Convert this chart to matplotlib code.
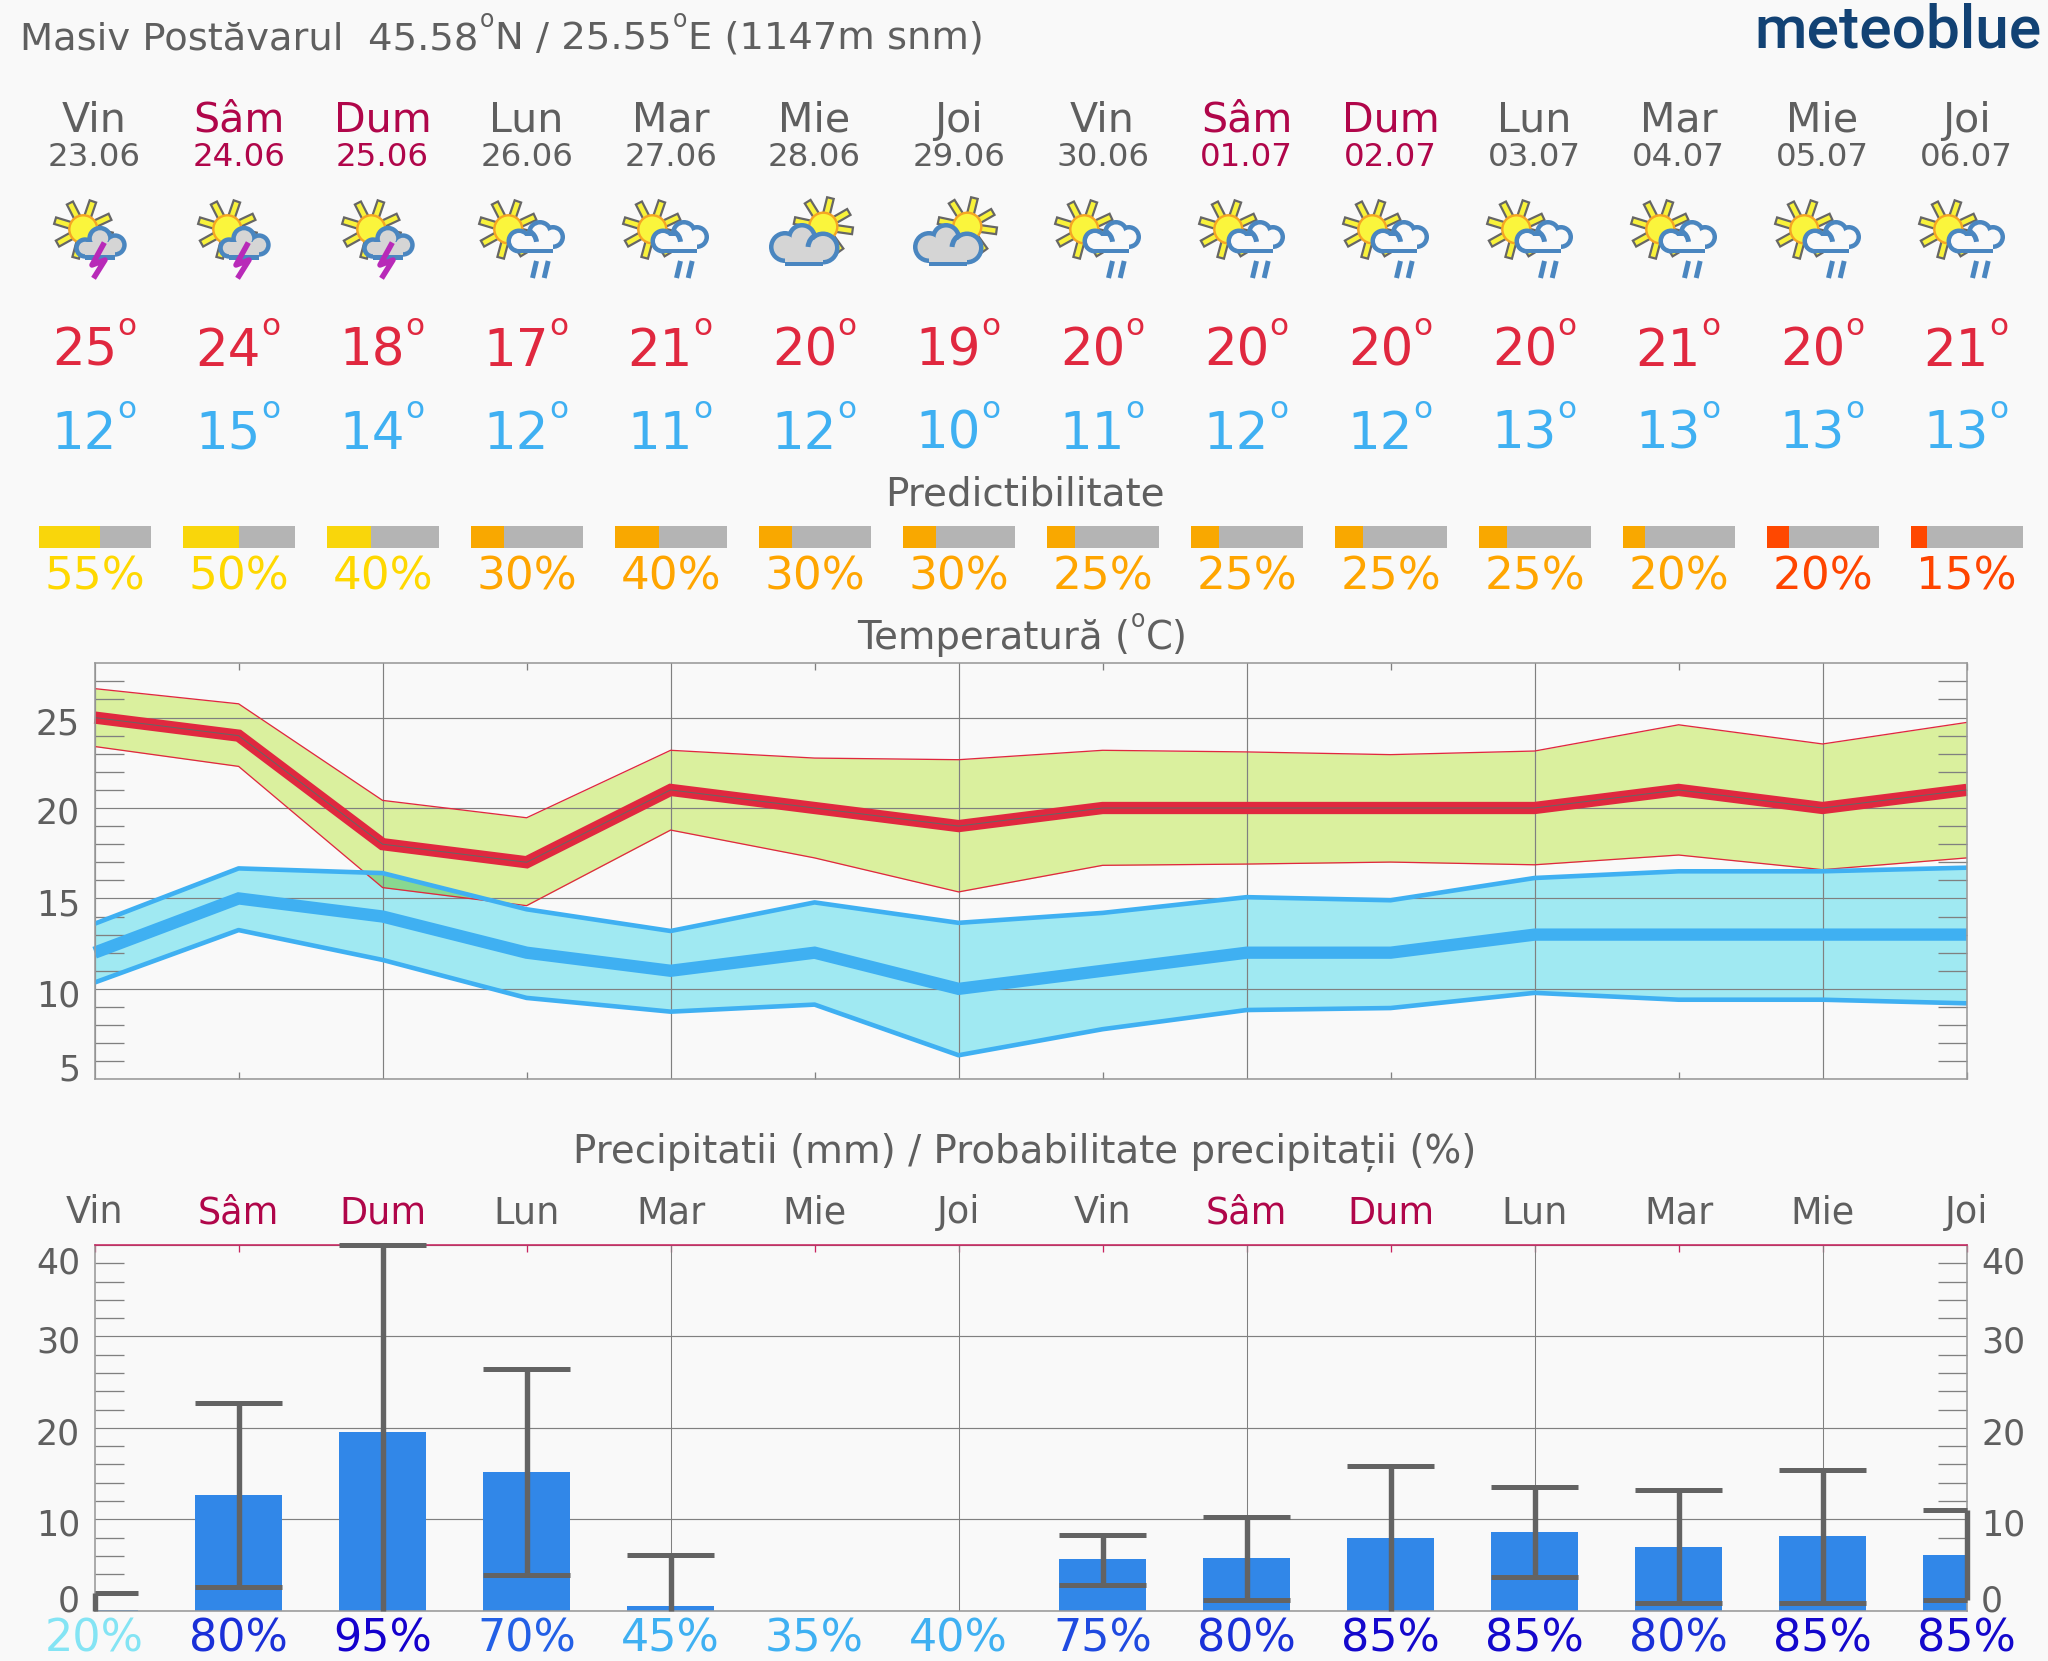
# plot
# meteogram 14 days : predictability, temperature, precipitation

import numpy as n
from matplotlib.pyplot import figure, rcParams
from matplotlib.patches import Circle, Rectangle, Arc, Polygon
from matplotlib.transforms import ScaledTranslation

# data
days_top = ['Vin','Sâm','Dum','Lun','Mar','Mie','Joi','Vin','Sâm','Dum','Lun','Mar','Mie','Joi']
dates = ['23.06','24.06','25.06','26.06','27.06','28.06','29.06','30.06','01.07','02.07','03.07','04.07','05.07','06.07']
icons = ['storm','storm','storm','rain','rain','cloud','cloud','rain','rain','rain','rain','rain','rain','rain']

t_max = [25,24,18,17,21,20,19,20,20,20,20,21,20,21]
t_min = [12,15,14,12,11,12,10,11,12,12,13,13,13,13]

t_max_hi = [26.6,25.76,20.42,19.46,23.19,22.76,22.67,23.19,23.1,22.95,23.15,24.6,23.54,24.73]
t_max_lo = [23.4,22.3,15.6,14.6,18.78,17.24,15.36,16.83,16.9,17.01,16.86,17.4,16.59,17.24]
t_min_hi = [13.6,16.66,16.4,14.4,13.2,14.78,13.65,14.2,15.07,14.9,16.13,16.5,16.5,16.7]
t_min_lo = [10.35,13.25,11.6,9.5,8.74,9.13,6.33,7.77,8.83,8.94,9.78,9.4,9.4,9.2]

predict = [55,50,40,30,40,30,30,25,25,25,25,20,20,15]
predict_col = ['y','y','y','o','o','o','o','o','o','o','o','o','r','r']

rain = [0.05,12.7,19.55,15.2,0.55,0,0,5.62,5.73,7.92,8.65,7.0,8.14,6.07]
rain_hi = [1.9,22.7,40.,26.4,6.05,n.nan,n.nan,8.28,10.25,15.88,13.58,13.25,15.36,11.]
rain_lo = [0,2.55,0,3.9,0,n.nan,n.nan,2.85,1.13,0,3.65,0.84,0.8,1.15]
rain_prob = [20,80,95,70,45,35,40,75,80,85,85,80,85,85]
prob_col = {20:'#84e4f4',35:'#3fb0f2',40:'#3fb0f2',45:'#3fb0f2',70:'#2360e6',75:'#1f4ae0',80:'#1a30d8',85:'#1408cc',95:'#1400cd'}

temp_ticks = [5,10,15,20,25]
rain_ticks = [0,10,20,30,40]

# parameter
W, H = 2048, 1661
X0, X1, STEP = 94.6, 1966.6, 144.
BG = '#f9f9f9'
GREY = '#5f5f5f'
LINE = '#808080'
WEEKEND = '#b0064a'
RED = '#e0283f'
BLUE = '#3fb0f2'
PUR_COL = {'y':('#f9d60b','#ffd800'),'o':('#f9a800','#ffa500'),'r':('#ff4800','#ff4500')}
px = 0.72  ## pixel to point at dpi 100

rcParams['font.family'] = 'DejaVu Sans'

xs = n.arange(14)
fig = figure(figsize=(W/100,H/100),dpi=100.,facecolor=BG)
rend = fig.canvas.get_renderer()

def new_axes(top,bottom):
	return fig.add_axes([X0/W,1-bottom/H,(X1-X0)/W,(bottom-top)/H],facecolor='none')

# whole figure in pixel, for text, icons and predictability bars
ov = fig.add_axes([0,0,1,1],facecolor='none')
ov.set(xlim=(0,W),ylim=(H,0))
ov.axis('off')

## text with raised degree signs, one piece after the other
def deg_text(x,y,parts,fs,fs_o,rise):
	for _i,_p in enumerate(parts):
		_t = ov.text(x,y,_p,fontsize=fs,color=GREY)
		x = _t.get_window_extent(rend).x1+1
		if _i<len(parts)-1:
			_t = ov.text(x,y-rise,'o',fontsize=fs_o,color=GREY)
			x = _t.get_window_extent(rend).x1+1

## icons
def sun(cx,cy,start):
	for _a in n.deg2rad(start+46.*n.arange(8)):
		_u, _v = n.cos(_a), -n.sin(_a)
		_pts = [(cx+_r*_u+_s*3.4*-_v,cy+_r*_v+_s*3.4*_u) for _r,_s in [(13,-1),(29.5,-1),(29.5,1),(13,1)]]
		ov.add_patch(Polygon(_pts,fc='#f8f23a',ec='#666666',lw=2.2*px,zorder=3))
	ov.add_patch(Circle((cx,cy),14.,fc='#faf53c',ec='#f5a623',lw=2.4*px,zorder=4))

def cloud(ox,oy,bumps,base,inner_top,fill):
	## outline first, the inner fill over it
	_col = '#4a86c0'
	for _cx,_cy,_r in bumps:
		ov.add_patch(Circle((ox+_cx,oy+_cy),_r,fc=_col,ec='none',zorder=5))
	_l,_t,_w,_h = base
	ov.add_patch(Rectangle((ox+_l,oy+_t),_w,_h,fc=_col,ec='none',zorder=5))
	for _cx,_cy,_r in bumps:
		ov.add_patch(Circle((ox+_cx,oy+_cy),_r-4.5,fc=fill,ec='none',zorder=6))
	ov.add_patch(Rectangle((ox+_l,oy+inner_top),_w,_t+_h-4.5-inner_top,fc=fill,ec='none',zorder=6))

def icon(kind,cx):
	if kind=='storm':
		sun(cx-11.3,229.3,25.)
		_ox, _oy = cx-54.6, 190.
		cloud(_ox,_oy,[(45,58,10.7),(60,48.5,12.7),(75,55,11.7)],(45,55,30,14.5),52,'#d5d5d5')
		ov.plot([_ox+63,_ox+52,_ox+65,_ox+55],[_oy+55,_oy+75,_oy+70,_oy+86],color='#b82ab8',lw=5.5*px,zorder=7,solid_joinstyle='round')
	if kind=='rain':
		sun(cx-18.3,229.3,25.)
		_ox, _oy = cx-61.6, 190.
		cloud(_ox,_oy,[(54,51,12.5),(75,43,13),(88,47,12)],(54,50,34,13.3),46,BG)
		ov.add_patch(Arc((_ox+58,_oy+53),27,27,theta1=300,theta2=355,ec='#4a86c0',lw=5.*px,zorder=7))
		for _d in [0,11.7]:
			ov.plot([_ox+71.5+_d,_ox+67.5+_d],[_oy+71,_oy+88],color='#4a86c0',lw=5.*px,zorder=7,solid_capstyle='butt')
	if kind=='cloud':
		sun(cx+8.7,226.7,30.)
		_ox, _oy = cx-54.6, 190.
		cloud(_ox,_oy,[(25,57,16.),(42,48,15),(63,58,16.5)],(25,58,38,18),50,'#d5d5d5')
		ov.add_patch(Arc((_ox+63,_oy+58),30,30,theta1=184,theta2=246,ec='#4a86c0',lw=5.*px,zorder=7))

## top text
deg_text(20,49,['Masiv Postăvarul  45.58','N / 25.55','E (1147m snm)'],27.7,17,22)
ov.text(2042,47.7,'meteoblue',fontsize=43.5,color='#124274',ha='right',family='Roboto',weight='medium')

def temp_label(x,y,v,col):
	ov.text(x+22.5,y,f'{v}',fontsize=37,color=col,ha='right')
	ov.text(x+32,y-30.5,'o',fontsize=22.4,color=col,ha='center')

for _i,(_d,_dt) in enumerate(zip(days_top,dates)):
	_x = X0+STEP*_i
	_c = WEEKEND if _d in ['Sâm','Dum'] else GREY
	ov.text(_x,132,_d,fontsize=29.6,color=_c,ha='center')
	ov.text(_x,166,_dt,fontsize=23.4,color=_c,ha='center')
	icon(icons[_i],_x)
	temp_label(_x,365.6,t_max[_i],RED)
	temp_label(_x,448.6,t_min[_i],BLUE)
	ov.text(_x,589.7,f'{predict[_i]}%',fontsize=32.6,color=PUR_COL[predict_col[_i]][1],ha='center')

## predictability
_pr = n.array(predict)/100.*112.
ov.barh([536.7]*14,[112.]*14,left=xs*STEP+X0-56.,height=22,color='#b4b4b4')
ov.barh([536.7]*14,_pr,left=xs*STEP+X0-56.,height=22,color=[PUR_COL[_c][0] for _c in predict_col])
ov.set(xlim=(0,W),ylim=(H,0))

ov.text(W/2+1,494,'Predictibilitate',fontsize=28,color=GREY,ha='center',va='center')
deg_text(857,649,['Temperatură (','C)'],27.8,17,22)
ov.text(W/2+1,1152.5,'Precipitatii (mm) / Probabilitate precipitații (%)',fontsize=27.9,color=GREY,ha='center',va='center')

for _i,_d in enumerate(days_top):
	_x = X0+STEP*_i
	ov.text(_x,1223,_d,fontsize=26.4,color=WEEKEND if _d in ['Sâm','Dum'] else GREY,ha='center')
	ov.text(_x,1651.7,f'{rain_prob[_i]}%',fontsize=32,color=prob_col[rain_prob[_i]],ha='center')

## shared axis style
def style(ax,ylim,major,minor,nudge,right_label=False):
	ax.set(xlim=(0,13),ylim=ylim)
	ax.set_xticks(range(0,14,2))
	ax.set_xticks(range(1,14,2),minor=True)
	ax.set_yticks(major)
	ax.set_yticks(minor,minor=True)
	ax.set_yticklabels([str(_v) for _v in major])
	ax.grid(True,which='major',color=LINE,lw=0.85)
	ax.tick_params(axis='x',which='both',labelbottom=False,length=0)
	ax.tick_params(axis='y',which='major',length=0,pad=10.5,labelsize=25,labelcolor=GREY,labelright=right_label)
	ax.tick_params(axis='y',which='minor',direction='in',length=29*px,width=1.3*px,color=LINE,left=True,right=True)
	for _s in ax.spines.values():
		_s.set_color('#9a9a9a')
		_s.set_linewidth(1.6*px)
	for _t,_v in zip(ax.yaxis.get_major_ticks(),major):
		_off = ScaledTranslation(0,-nudge[_v]/100.,fig.dpi_scale_trans)
		_t.label1.set_transform(_t.label1.get_transform()+_off)
		_t.label2.set_transform(_t.label2.get_transform()+_off)

# plot temperature
at = new_axes(663.3,1079.3)
style(at,(5,28),temp_ticks,[_v for _v in range(6,28) if _v%5],{25:3.3,20:2.3,15:4,10:4,5:-12})
at.set_axisbelow('line')
at.tick_params(axis='x',which='minor',direction='in',length=7*px,width=1.3*px,color=LINE,top=True,bottom=True)

a_hi, a_lo = n.array(t_max_lo), n.array(t_min_hi)
at.fill_between(xs,t_max_lo,t_max_hi,color='#daf09e',lw=0)
at.fill_between(xs,t_min_lo,t_min_hi,color='#a0e9f2',lw=0)
at.fill_between(xs,t_max_lo,t_min_hi,where=a_lo>a_hi,interpolate=True,color='#88d890',lw=0)

at.plot(xs,t_max_hi,color=RED,lw=1.3*px)
at.plot(xs,t_max_lo,color=RED,lw=1.3*px)
at.plot(xs,t_min_hi,color=BLUE,lw=4.6*px)
at.plot(xs,t_min_lo,color=BLUE,lw=4.6*px)
at.plot(xs,t_max,color=RED,lw=12.3*px,solid_capstyle='butt',solid_joinstyle='miter',clip_on=False)
at.plot(xs,t_min,color=BLUE,lw=12.3*px,solid_capstyle='butt',solid_joinstyle='miter',clip_on=False)
at.plot(xs,t_max,color='#666666',lw=1.*px)

# plot precipitation
ar = new_axes(1245.,1610.7)
style(ar,(0,40),rain_ticks,[_v for _v in range(2,40,2) if _v%10],{0:-13,10:3,20:3,30:3,40:15},right_label=True)
ar.set_axisbelow(True)
ar.tick_params(axis='x',which='both',direction='in',length=7*px,width=1.3*px,color='#c8245f',top=True,bottom=False)
ar.spines['top'].set_color('#c8245f')
ar.grid(False,axis='x')
ar.vlines(range(2,14,2),0,40,color=LINE,lw=0.75,zorder=0.6)

ar.bar(xs,rain,width=0.6,color='#3187e8',zorder=1)

err = '#636363'
hi, lo = n.array(rain_hi), n.array(rain_lo)
ar.vlines(xs,lo,hi,color=err,lw=5.4*px,clip_on=False,zorder=3)
ar.hlines(hi,n.clip(xs-.3,0,13),n.clip(xs+.3,0,13),color=err,lw=5.*px,clip_on=False,zorder=3)
ar.hlines(lo[lo>0],n.clip(xs[lo>0]-.3,0,13),n.clip(xs[lo>0]+.3,0,13),color=err,lw=5.*px,clip_on=False,zorder=3)

fig.savefig('out.png',dpi=100.,facecolor=BG)
